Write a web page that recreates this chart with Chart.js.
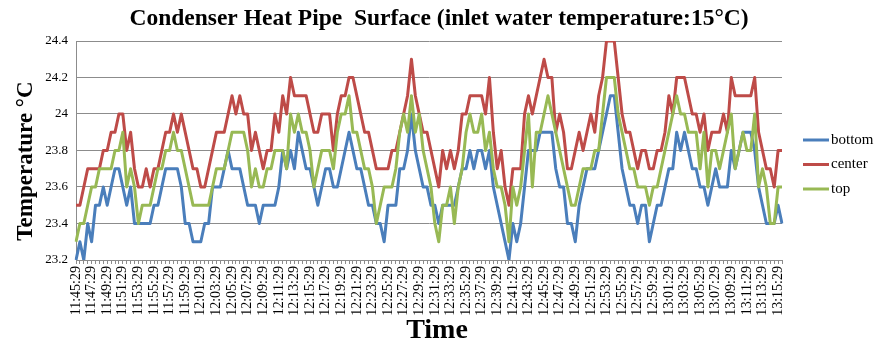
<!DOCTYPE html>
<html><head><meta charset="utf-8">
<script src="https://cdn.jsdelivr.net/npm/chart.js@4"></script>
<style>html,body{margin:0;padding:0;background:#fff}</style>
</head><body>
<canvas id="c" width="876" height="345"></canvas>
<script>
// ---- data ----
const chartTitle = "Condenser Heat Pipe  Surface (inlet water temperature:15\u00b0C)";
const xTitle = "Time";
const yTitle = "Temperature \u00b0C";
const startTime = "11:45:29";
const stepSeconds = 30;
const labelEvery = 4;
const seriesNames = ["bottom", "center", "top"];
const seriesColors = ["#4a7ebb", "#be4b48", "#98b954"];

const bottomTemps = [
23.2,23.3,23.2,23.4,23.3,23.5,23.5,23.6,23.5,23.6,
23.7,23.7,23.6,23.5,23.6,23.4,23.4,23.4,23.4,23.4,
23.5,23.5,23.6,23.7,23.7,23.7,23.7,23.6,23.4,23.4,
23.3,23.3,23.3,23.4,23.4,23.6,23.6,23.6,23.7,23.8,
23.7,23.7,23.7,23.6,23.5,23.5,23.5,23.4,23.5,23.5,
23.5,23.5,23.6,23.8,23.7,23.8,23.7,23.9,23.8,23.7,
23.7,23.6,23.5,23.6,23.7,23.7,23.6,23.6,23.7,23.8,
23.9,23.8,23.7,23.7,23.6,23.5,23.5,23.4,23.4,23.3,
23.5,23.5,23.5,23.7,23.7,23.8,24.0,23.8,23.7,23.6,
23.6,23.5,23.5,23.4,23.5,23.5,23.5,23.5,23.6,23.7,
23.7,23.8,23.7,23.8,23.8,23.7,23.8,23.6,23.5,23.4,
23.3,23.2,23.4,23.3,23.4,23.6,23.8,23.8,23.8,23.9,
23.9,23.9,23.9,23.7,23.6,23.6,23.4,23.4,23.3,23.5,
23.6,23.7,23.7,23.7,23.8,23.9,24.0,24.1,24.1,23.9,
23.7,23.6,23.5,23.5,23.4,23.5,23.5,23.3,23.4,23.5,
23.5,23.6,23.7,23.7,23.9,23.8,23.9,23.8,23.7,23.7,
23.6,23.6,23.5,23.6,23.7,23.6,23.6,23.6,23.8,23.7,
23.8,23.9,23.9,23.9,23.8,23.6,23.5,23.4,23.4,23.4,
23.5,23.4];

const centerTemps = [
23.5,23.5,23.6,23.7,23.7,23.7,23.7,23.8,23.8,23.9,
23.9,24.0,24.0,23.8,23.9,23.7,23.6,23.6,23.7,23.6,
23.7,23.7,23.8,23.9,23.9,24.0,23.9,24.0,23.9,23.8,
23.7,23.7,23.6,23.6,23.7,23.8,23.9,23.9,23.9,24.0,
24.1,24.0,24.1,24.0,24.0,23.8,23.9,23.8,23.7,23.8,
23.8,24.0,23.9,24.1,24.0,24.2,24.1,24.1,24.1,24.1,
24.0,23.9,23.9,24.0,24.0,24.0,23.8,24.0,24.1,24.1,
24.2,24.2,24.1,24.0,23.9,23.9,23.8,23.7,23.7,23.7,
23.7,23.8,23.8,23.9,24.0,24.1,24.3,24.1,24.0,23.9,
23.9,23.8,23.7,23.6,23.8,23.7,23.8,23.7,23.8,24.0,
24.0,24.1,24.1,24.1,24.1,24.0,24.2,23.9,23.7,23.8,
23.6,23.5,23.7,23.7,23.7,24.0,24.1,24.0,24.1,24.2,
24.3,24.2,24.2,23.9,24.0,23.9,23.7,23.7,23.8,23.9,
23.8,23.9,24.0,23.9,24.1,24.2,24.4,24.4,24.4,24.2,
24.0,23.9,23.9,23.8,23.7,23.8,23.8,23.7,23.7,23.8,
23.8,23.9,24.1,24.0,24.2,24.2,24.2,24.1,24.0,24.0,
23.9,24.0,23.8,23.9,23.9,23.9,24.0,23.9,24.2,24.1,
24.1,24.1,24.1,24.1,24.2,23.9,23.8,23.7,23.7,23.6,
23.8,23.8];

const topTemps = [
23.3,23.4,23.4,23.5,23.6,23.6,23.7,23.7,23.7,23.7,
23.8,23.8,23.9,23.6,23.7,23.6,23.4,23.5,23.5,23.5,
23.6,23.7,23.7,23.8,23.8,23.9,23.8,23.8,23.7,23.6,
23.5,23.5,23.5,23.5,23.5,23.6,23.7,23.7,23.7,23.8,
23.9,23.9,23.9,23.9,23.8,23.6,23.7,23.6,23.6,23.7,
23.7,23.8,23.8,23.8,23.7,24.0,23.9,24.0,23.9,23.9,
23.8,23.6,23.7,23.8,23.8,23.8,23.7,23.9,24.0,24.0,
24.1,23.9,23.9,23.8,23.7,23.7,23.6,23.4,23.5,23.6,
23.6,23.6,23.7,23.9,24.0,23.9,24.1,23.9,24.0,23.8,
23.7,23.6,23.4,23.3,23.5,23.5,23.6,23.4,23.6,23.7,
23.9,24.0,23.9,23.9,24.0,23.8,23.9,23.7,23.6,23.6,
23.5,23.3,23.6,23.5,23.6,23.8,24.0,23.6,23.9,23.9,
24.0,24.1,24.0,23.9,23.8,23.7,23.6,23.5,23.5,23.6,
23.7,23.7,23.7,23.8,23.8,24.0,24.2,24.2,24.2,24.0,
23.9,23.8,23.7,23.7,23.6,23.6,23.6,23.5,23.6,23.6,
23.7,23.8,23.9,24.0,24.1,24.0,24.0,23.9,23.9,23.9,
23.7,23.9,23.6,23.8,23.8,23.7,23.8,23.9,24.0,23.7,
23.8,23.9,23.8,23.8,24.0,23.6,23.7,23.6,23.4,23.4,
23.6,23.6];

const yMin = 23.2, yMax = 24.4, yStep = 0.2;

// category labels: time stamps every 30 s
function makeTimes(start, n, step) {
  const [h, m, s] = start.split(":").map(Number);
  let t = h * 3600 + m * 60 + s;
  const out = [];
  for (let i = 0; i < n; i++) {
    const hh = Math.floor(t / 3600), mm = Math.floor(t % 3600 / 60), ss = t % 60;
    out.push(hh + ":" + String(mm).padStart(2, "0") + ":" + String(ss).padStart(2, "0"));
    t += step;
  }
  return out;
}
const categories = makeTimes(startTime, bottomTemps.length, stepSeconds);

const SERIF = "'Liberation Serif','Times New Roman',serif";
const GRID = "#8c8c8c";

const textPlugin = {
  id: "textAndLegend",
  afterDraw(chart) {
    const ctx = chart.ctx;
    ctx.save();
    ctx.fillStyle = "#000";
    // chart title
    ctx.font = "bold 23.5px " + SERIF;
    ctx.textAlign = "center";
    ctx.textBaseline = "middle";
    ctx.fillText(chartTitle, 439, 19);
    // x title
    ctx.font = "bold 28px " + SERIF;
    ctx.textBaseline = "alphabetic";
    ctx.fillText(xTitle, 437, 338);
    // y title
    ctx.save();
    ctx.translate(26, 161);
    ctx.rotate(-Math.PI / 2);
    ctx.font = "bold 23px " + SERIF;
    ctx.textBaseline = "middle";
    ctx.fillText(yTitle, 0, 0);
    ctx.restore();
    // legend
    ctx.font = "15px " + SERIF;
    ctx.textAlign = "left";
    ctx.textBaseline = "middle";
    const ys = [140, 164.5, 189];
    chart.data.datasets.forEach((ds, i) => {
      ctx.strokeStyle = ds.borderColor;
      ctx.lineWidth = 3;
      ctx.beginPath();
      ctx.moveTo(803, ys[i]);
      ctx.lineTo(829, ys[i]);
      ctx.stroke();
      ctx.fillText(ds.label, 831, ys[i]);
    });
    ctx.restore();
  }
};

new Chart(document.getElementById("c"), {
  type: "line",
  data: {
    labels: categories,
    datasets: [
      { label: seriesNames[0], data: bottomTemps, borderColor: seriesColors[0], backgroundColor: seriesColors[0], order: 2 },
      { label: seriesNames[1], data: centerTemps, borderColor: seriesColors[1], backgroundColor: seriesColors[1], order: 1 },
      { label: seriesNames[2], data: topTemps, borderColor: seriesColors[2], backgroundColor: seriesColors[2], order: 0 }
    ]
  },
  options: {
    responsive: false,
    animation: false,
    devicePixelRatio: 1,
    layout: { padding: { left: 0, right: 94, top: 41, bottom: 0 } },
    elements: {
      point: { radius: 0, hoverRadius: 0 },
      line: { borderWidth: 3, tension: 0, borderJoinStyle: "round" }
    },
    plugins: {
      legend: { display: false },
      tooltip: { enabled: false },
      title: { display: false }
    },
    scales: {
      x: {
        type: "category",
        offset: false,
        grid: { display: true, drawOnChartArea: false, drawTicks: true, tickLength: 4, color: GRID },
        border: { color: GRID, width: 1 },
        ticks: {
          autoSkip: false, minRotation: 90, maxRotation: 90, padding: 2,
          color: "#000",
          font: { family: SERIF, size: 14 },
          callback: (v, i) => (i % labelEvery === 0 ? categories[i] : "")
        },
        afterFit: (s) => { s.height = 85; }
      },
      y: {
        min: yMin, max: yMax,
        grid: { color: GRID, drawTicks: false },
        border: { color: GRID, width: 1 },
        ticks: {
          stepSize: yStep, padding: 8, color: "#000",
          font: { family: SERIF, size: 13 },
          callback: (v) => String(Math.round(v * 10) / 10)
        },
        afterFit: (s) => { s.width = 76; }
      }
    }
  },
  plugins: [textPlugin]
});
</script>
</body></html>
